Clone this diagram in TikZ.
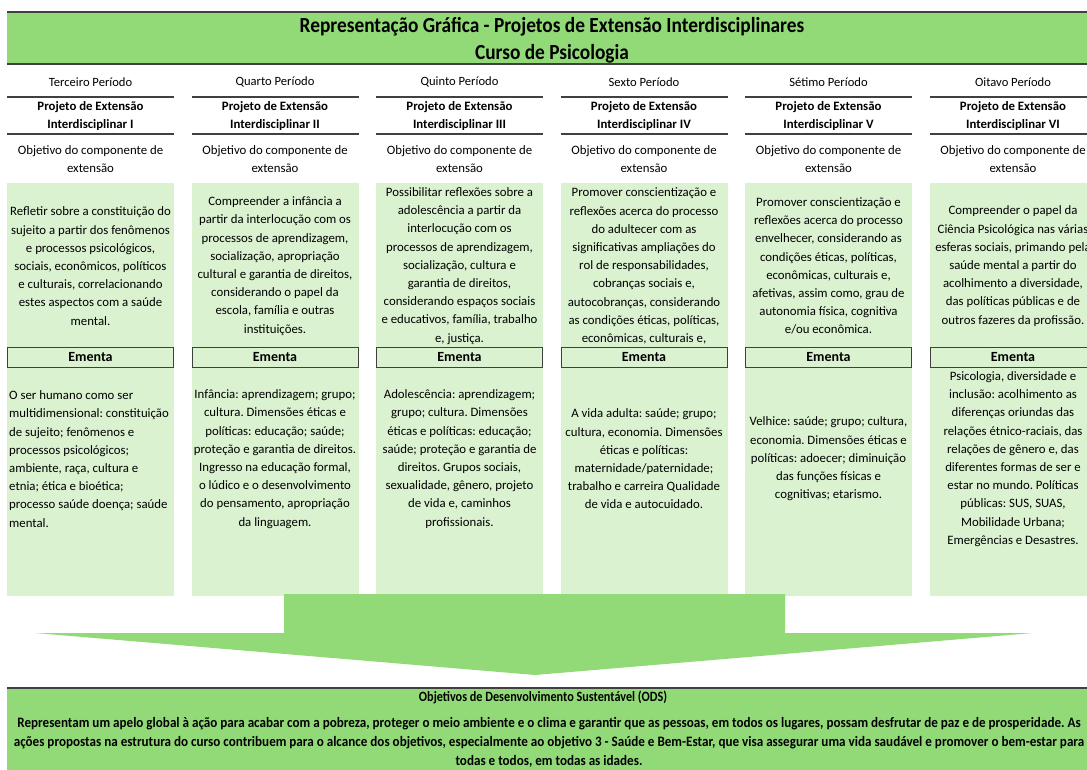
\documentclass[tikz,border=0pt]{standalone}
\usepackage{fontspec}
\setmainfont{Carlito}
\newfontfamily\narrowfont[FakeStretch=0.86]{Carlito}
\newfontfamily\widenarrowfont[FakeStretch=0.91]{Carlito}
\newfontfamily\titlefont[FakeStretch=0.9]{Carlito}
\usetikzlibrary{positioning}
\definecolor{bandgreen}{RGB}{146,218,120}
\definecolor{cellgreen}{RGB}{218,242,208}
\definecolor{rulegray}{RGB}{64,64,64}
\frenchspacing

\begin{document}
\begin{tikzpicture}[x = 1pt, y = -1pt,
		rulebar/.style = {rulegray, line width = 1.6pt},
		period/.style = {font = \fontsize{12.6}{14}\selectfont, inner sep = 0},
		projtitle/.style = {font = \bfseries\fontsize{12.8}{18.5}\selectfont, align = center, inner sep = 0},
		celltext/.style = {font = \fontsize{12.8}{18.2}\selectfont, align = center, inner sep = 0},
		ementabox/.style = {draw = rulegray, line width = 0.9pt, fill = cellgreen, minimum width = 166pt, minimum height = 20pt, font = \bfseries\fontsize{14}{16}\selectfont, inner sep = 0},
		odstext/.style = {font = \narrowfont\bfseries\fontsize{14.2}{19}\selectfont, align = center, inner sep = 0}]
	\useasboundingbox (0, 0) rectangle (1087, 769);
	\clip (0, 0) rectangle (1087, 769);
	% faixa do titulo
	\fill [bandgreen] (7, 12) rectangle (1100, 64);
	\draw [rulebar] (7, 12) -- (1100, 12);
	\draw [rulebar] (7, 64) -- (1100, 64);
	\node (titulo) at (552, 40) [align = center, inner sep = 0, font = \titlefont\bfseries\fontsize{21.5}{27}\selectfont] {Representação Gráfica - Projetos de Extensão Interdisciplinares\\Curso de Psicologia};
	% colunas
	\foreach \i/\px/\per/\num in {1/7/Terceiro/I, 2/191.5/Quarto/II, 3/376/Quinto/III, 4/560.5/Sexto/IV, 5/745/Sétimo/V, 6/929.5/Oitavo/VI} {
		\fill [cellgreen] (\px, 183) rectangle ++(167, 413);
		\draw [rulebar] (\px, 97) -- ++(167, 0);
		\draw [rulebar] (\px, 134) -- ++(167, 0);
		\node (per\i) at (\px + 83.5, 82) [period] {\per\ Período};
		\node (proj\i) at (\px + 83.5, 116) [projtitle] {Projeto de Extensão\\Interdisciplinar \num};
		\node (obj\i) at (\px + 83.5, 159) [celltext] {Objetivo do componente de\\extensão};
		\node (ementa\i) at (\px + 83.5, 357) [ementabox] {Ementa};
	}
	% objetivos
	\node (alvo1) at (90.5, 266) [celltext] {Refletir sobre a constituição do\\sujeito a partir dos fenômenos\\e processos psicológicos,\\sociais, econômicos, políticos\\e culturais, correlacionando\\estes aspectos com a saúde\\mental.};
	\node (alvo2) at (275, 266) [celltext] {Compreender a infância a\\partir da interlocução com os\\processos de aprendizagem,\\socialização, apropriação\\cultural e garantia de direitos,\\considerando o papel da\\escola, família e outras\\instituições.};
	\node (alvo3) at (459.5, 266) [celltext] {Possibilitar reflexões sobre a\\adolescência a partir da\\interlocução com os\\processos de aprendizagem,\\socialização, cultura e\\garantia de direitos,\\considerando espaços sociais\\e educativos, família, trabalho\\e, justiça.};
	\node (alvo4) at (644, 266) [celltext] {Promover conscientização e\\reflexões acerca do processo\\do adultecer com as\\significativas ampliações do\\rol de responsabilidades,\\cobranças sociais e,\\autocobranças, considerando\\as condições éticas, políticas,\\econômicas, culturais e,};
	\node (alvo5) at (828.5, 266) [celltext] {Promover conscientização e\\reflexões acerca do processo\\envelhecer, considerando as\\condições éticas, políticas,\\econômicas, culturais e,\\afetivas, assim como, grau de\\autonomia física, cognitiva\\e/ou econômica.};
	\node (alvo6) at (1013, 266) [celltext] {Compreender o papel da\\Ciência Psicológica nas várias\\esferas sociais, primando pela\\saúde mental a partir do\\acolhimento a diversidade,\\das políticas públicas e de\\outros fazeres da profissão.};
	% ementas
	\node (conteudo1) at (9, 459) [celltext, align = left, anchor = west] {O ser humano como ser\\multidimensional: constituição\\de sujeito; fenômenos e\\processos psicológicos;\\ambiente, raça, cultura e\\etnia; ética e bioética;\\processo saúde doença; saúde\\mental.};
	\node (conteudo2) at (275, 459) [celltext] {Infância: aprendizagem; grupo;\\cultura. Dimensões éticas e\\políticas: educação; saúde;\\proteção e garantia de direitos.\\Ingresso na educação formal,\\o lúdico e o desenvolvimento\\do pensamento, apropriação\\da linguagem.};
	\node (conteudo3) at (459.5, 459) [celltext] {Adolescência: aprendizagem;\\grupo; cultura. Dimensões\\éticas e políticas: educação;\\saúde; proteção e garantia de\\direitos. Grupos sociais,\\sexualidade, gênero, projeto\\de vida e, caminhos\\profissionais.};
	\node (conteudo4) at (644, 459) [celltext] {A vida adulta: saúde; grupo;\\cultura, economia. Dimensões\\éticas e políticas:\\maternidade/paternidade;\\trabalho e carreira Qualidade\\de vida e autocuidado.};
	\node (conteudo5) at (828.5, 459) [celltext] {Velhice: saúde; grupo; cultura,\\economia. Dimensões éticas e\\políticas: adoecer; diminuição\\das funções físicas e\\cognitivas; etarismo.};
	\node (conteudo6) at (1013, 459) [celltext] {Psicologia, diversidade e\\inclusão: acolhimento as\\diferenças oriundas das\\relações étnico-raciais, das\\relações de gênero e, das\\diferentes formas de ser e\\estar no mundo. Políticas\\públicas: SUS, SUAS,\\Mobilidade Urbana;\\Emergências e Desastres.};
	% seta para os ODS
	\fill [bandgreen] (284, 594) -- (785, 594) -- (785, 633) -- (1033, 633) -- (535, 675) -- (35, 633) -- (284, 633) -- cycle;
	% caixa dos ODS
	\fill [bandgreen] (7, 688) rectangle (1100, 780);
	\draw [rulebar] (7, 688) -- (1100, 688);
	\node (ods) at (543, 697) [odstext] {Objetivos de Desenvolvimento Sustentável (ODS)};
	\node (odscorpo) at (549, 742) [odstext, font = \widenarrowfont\bfseries\fontsize{14.4}{19}\selectfont] {Representam um apelo global à ação para acabar com a pobreza, proteger o meio ambiente e o clima e garantir que as pessoas, em todos os lugares, possam desfrutar de paz e de prosperidade. As\\ações propostas na estrutura do curso contribuem para o alcance dos objetivos, especialmente ao objetivo 3 - Saúde e Bem-Estar, que visa assegurar uma vida saudável e promover o bem-estar para\\todas e todos, em todas as idades.};
\end{tikzpicture}
\end{document}
